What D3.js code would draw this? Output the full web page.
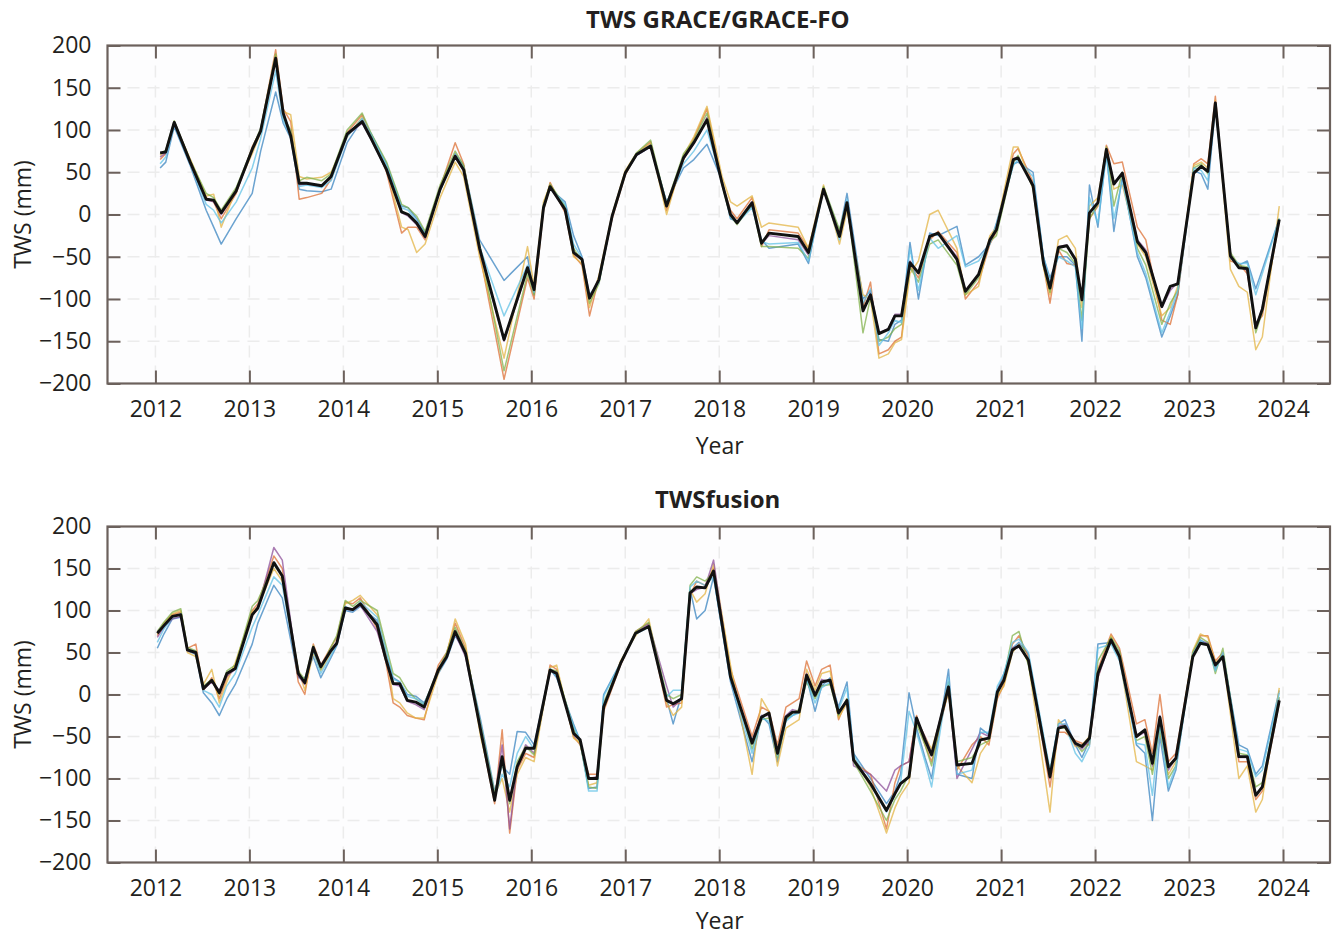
<!DOCTYPE html>
<html>
<head>
<meta charset="utf-8">
<script src="https://cdn.jsdelivr.net/npm/d3@7"></script>
<style>
  html, body { margin: 0; padding: 0; background: #ffffff; }
  svg { display: block; }
  text { font-family: "Open Sans", "Noto Sans", sans-serif; fill: #231f20; }
</style>
</head>
<body>
<svg id="chart" width="1338" height="937"></svg>
<script>
// ---------- shared axis settings ----------
const yearTicks = [2012, 2013, 2014, 2015, 2016, 2017, 2018, 2019, 2020, 2021, 2022, 2023, 2024];
const twsTicks = [-200, -150, -100, -50, 0, 50, 100, 150, 200];
const seriesNames = ["blue", "orange", "yellow", "purple", "green", "cyan"];

// ---------- TWS GRACE/GRACE-FO ----------
const graceTime = [2012.05, 2012.11, 2012.20, 2012.37, 2012.54, 2012.62, 2012.70, 2012.86, 2013.03, 2013.12,
  2013.28, 2013.36, 2013.44, 2013.53, 2013.61, 2013.77, 2013.87, 2014.04, 2014.20, 2014.30,
  2014.46, 2014.62, 2014.69, 2014.78, 2014.87, 2015.03, 2015.19, 2015.28, 2015.45, 2015.71,
  2015.96, 2016.03, 2016.13, 2016.20, 2016.36, 2016.45, 2016.54, 2016.62, 2016.72, 2016.86,
  2017.00, 2017.12, 2017.27, 2017.44, 2017.62, 2017.73, 2017.87, 2018.03, 2018.12, 2018.19,
  2018.35, 2018.45, 2018.53, 2018.84, 2018.95, 2019.11, 2019.28, 2019.36, 2019.53, 2019.61,
  2019.70, 2019.80, 2019.87, 2019.94, 2020.03, 2020.12, 2020.24, 2020.33, 2020.53, 2020.62,
  2020.76, 2020.88, 2020.95, 2021.13, 2021.18, 2021.34, 2021.45, 2021.52, 2021.61, 2021.70,
  2021.79, 2021.86, 2021.94, 2022.03, 2022.12, 2022.20, 2022.29, 2022.45, 2022.54, 2022.71,
  2022.80, 2022.88, 2023.05, 2023.13, 2023.20, 2023.28, 2023.44, 2023.53, 2023.62, 2023.71,
  2023.78, 2023.96];
const graceMean = [73, 74, 109, 62, 18, 17, 2, 28, 77, 99,
  185, 120, 93, 37, 37, 34, 45, 95, 110, 89,
  53, 3, 0, -10, -26, 30, 69, 53, -40, -148,
  -63, -89, 8, 33, 6, -45, -53, -99, -77, -2,
  49, 71, 81, 10, 67, 85, 112, 37, 0, -10,
  14, -34, -22, -26, -45, 30, -26, 14, -114, -95,
  -141, -136, -120, -120, -57, -69, -26, -22, -53, -91,
  -71, -30, -18, 65, 67, 34, -57, -87, -39, -37,
  -53, -101, 2, 14, 77, 36, 49, -32, -45, -109,
  -85, -82, 49, 57, 51, 132, -49, -63, -64, -134,
  -112, -6];
const graceBlue = [55, 62, 104, 58, 5, -15, -35, -5, 25, 75,
  145, 108, 90, 30, 28, 27, 30, 85, 112, 95,
  60, 10, 8, -5, -22, 28, 72, 58, -30, -78,
  -50, -95, 12, 30, 15, -25, -50, -95, -80, -2,
  48, 70, 80, 15, 55, 65, 83, 40, -5, -8,
  10, -30, -40, -35, -58, 32, -20, 25, -100, -90,
  -148, -150, -130, -125, -33, -100, -22, -25, -14, -60,
  -50, -35, -10, 60, 62, 50, -50, -75, -50, -50,
  -60, -150, 35, -15, 75, -20, 45, -50, -75, -145,
  -120, -95, 52, 48, 30, 128, -48, -60, -55, -88,
  -65, -5];
const graceOrange = [65, 72, 110, 63, 20, 15, -5, 25, 80, 100,
  195, 125, 110, 18, 20, 25, 42, 97, 118, 92,
  50, -22, -15, -15, -30, 32, 85, 60, -45, -195,
  -75, -100, 5, 38, 2, -48, -60, -120, -75, -5,
  47, 72, 86, 5, 65, 90, 125, 38, 5, -5,
  20, -38, -18, -22, -40, 28, -22, 10, -110, -80,
  -165, -160, -150, -145, -60, -75, -30, -20, -45, -100,
  -80, -35, -20, 72, 78, 38, -60, -105, -42, -58,
  -60, -95, -5, 10, 82, 60, 62, -15, -30, -125,
  -130, -95, 60, 66, 60, 140, -55, -58, -70, -130,
  -120, -8];
const graceYellow = [70, 75, 108, 66, 22, 24, -15, 30, 72, 97,
  188, 122, 118, 45, 42, 44, 50, 92, 115, 88,
  55, -15, -18, -45, -35, 20, 62, 45, -50, -170,
  -38, -85, 15, 35, 8, -50, -58, -110, -72, 0,
  52, 73, 84, 0, 70, 92, 128, 45, 15, 10,
  22, -15, -10, -15, -40, 35, -35, 5, -95, -100,
  -170, -165, -152, -148, -70, -55, 0, 5, -40, -95,
  -85, -25, -15, 80, 80, 30, -62, -95, -30, -25,
  -40, -110, 10, 20, 78, 30, 35, -35, -50, -120,
  -110, -85, 58, 62, 55, 135, -65, -85, -92, -160,
  -145, 10];
const gracePurple = [68, 73, 107, 61, 17, 15, 0, 27, 76, 98,
  183, 118, 95, 35, 36, 33, 44, 94, 108, 88,
  52, 2, -2, -12, -28, 30, 68, 52, -42, -150,
  -65, -90, 8, 33, 5, -45, -52, -100, -78, -3,
  50, 70, 80, 10, 66, 84, 115, 37, 0, -10,
  15, -35, -25, -30, -48, 30, -25, 12, -115, -92,
  -140, -135, -118, -118, -55, -70, -25, -22, -50, -90,
  -72, -30, -18, 66, 68, 35, -55, -88, -38, -36,
  -55, -100, 2, 14, 78, 38, 48, -30, -42, -110,
  -90, -80, 50, 56, 50, 133, -50, -62, -66, -135,
  -110, -6];
const graceGreen = [72, 76, 111, 64, 25, 20, 5, 32, 78, 102,
  190, 115, 100, 40, 44, 40, 48, 100, 120, 95,
  62, 12, 8, -2, -20, 35, 75, 58, -35, -185,
  -70, -95, 10, 36, 10, -40, -55, -105, -82, -1,
  50, 73, 88, 12, 72, 88, 120, 35, -2, -12,
  12, -38, -38, -40, -52, 33, -18, 15, -140, -98,
  -150, -145, -135, -130, -62, -80, -35, -30, -60, -95,
  -75, -32, -25, 62, 70, 32, -60, -92, -40, -45,
  -58, -125, -5, 12, 80, 10, 50, -40, -60, -130,
  -105, -90, 55, 60, 48, 130, -45, -60, -62, -140,
  -115, -5];
const graceCyan = [60, 68, 106, 60, 12, 5, -10, 15, 55, 90,
  170, 112, 92, 33, 35, 32, 40, 92, 114, 93,
  58, 8, 5, -8, -24, 29, 70, 55, -38, -120,
  -60, -92, 10, 32, 12, -35, -52, -98, -80, -2,
  49, 72, 82, 13, 60, 75, 100, 38, -3, -10,
  8, -32, -35, -33, -55, 30, -30, 18, -105, -88,
  -155, -140, -125, -128, -40, -90, -28, -40, -25, -62,
  -55, -35, -12, 58, 65, 45, -50, -80, -50, -55,
  -62, -135, 20, -10, 70, -5, 40, -45, -70, -140,
  -115, -90, 55, 52, 40, 130, -52, -58, -58, -95,
  -70, -5];

// ---------- TWSfusion ----------
const fusionTime = [2012.02, 2012.09, 2012.18, 2012.27, 2012.34, 2012.43, 2012.51, 2012.60, 2012.68, 2012.76,
  2012.85, 2013.03, 2013.09, 2013.26, 2013.35, 2013.52, 2013.59, 2013.68, 2013.76, 2013.86,
  2013.93, 2014.02, 2014.10, 2014.18, 2014.36, 2014.45, 2014.53, 2014.60, 2014.68, 2014.77,
  2014.86, 2015.01, 2015.10, 2015.19, 2015.30, 2015.46, 2015.61, 2015.69, 2015.77, 2015.85,
  2015.94, 2016.03, 2016.20, 2016.27, 2016.45, 2016.52, 2016.61, 2016.70, 2016.77, 2016.95,
  2017.11, 2017.25, 2017.44, 2017.51, 2017.60, 2017.69, 2017.76, 2017.85, 2017.94, 2018.12,
  2018.35, 2018.45, 2018.53, 2018.62, 2018.71, 2018.78, 2018.85, 2018.93, 2019.02, 2019.09,
  2019.18, 2019.27, 2019.36, 2019.43, 2019.61, 2019.78, 2019.87, 2019.93, 2020.02, 2020.10,
  2020.19, 2020.26, 2020.44, 2020.53, 2020.69, 2020.78, 2020.87, 2020.96, 2021.03, 2021.12,
  2021.19, 2021.29, 2021.52, 2021.61, 2021.68, 2021.79, 2021.86, 2021.94, 2022.03, 2022.17,
  2022.26, 2022.44, 2022.53, 2022.61, 2022.69, 2022.78, 2022.86, 2023.04, 2023.12, 2023.20,
  2023.28, 2023.36, 2023.53, 2023.62, 2023.71, 2023.78, 2023.96];
const fusionMean = [73, 82, 93, 95, 53, 50, 7, 17, 2, 25,
  31, 95, 103, 157, 141, 25, 14, 56, 33, 51,
  61, 103, 101, 108, 83, 43, 13, 13, -7, -9,
  -15, 29, 45, 75, 49, -42, -126, -74, -126, -86,
  -64, -64, 29, 25, -46, -54, -100, -100, -15, 37,
  73, 81, -7, -11, -5, 121, 128, 127, 147, 21,
  -58, -27, -22, -70, -27, -21, -21, 23, -1, 15,
  17, -22, -7, -78, -106, -138, -118, -106, -98, -28,
  -54, -72, 9, -84, -82, -54, -52, 3, 17, 53,
  58, 41, -98, -40, -38, -58, -62, -52, 25, 65,
  45, -50, -42, -82, -27, -86, -76, 45, 61, 59,
  35, 45, -74, -74, -120, -110, -7];
const fusionBlue = [55, 72, 90, 92, 52, 48, 2, -10, -25, -5,
  12, 60, 85, 130, 115, 20, 20, 45, 20, 42,
  58, 100, 98, 105, 88, 50, 20, 15, 0, -2,
  -10, 25, 42, 70, 50, -30, -115, -85, -95, -44,
  -45, -60, 30, 20, -35, -55, -112, -110, 0, 38,
  72, 82, -5, -35, 0, 125, 90, 100, 140, 15,
  -80, -25, -35, -80, -30, -25, -20, 20, -20, 10,
  20, -15, 15, -70, -100, -130, -115, -95, 2, -40,
  -75, -100, 30, -95, -100, -40, -48, 5, 25, 55,
  62, 48, -95, -35, -30, -60, -75, -55, 60, 62,
  50, -60, -70, -150, -50, -115, -90, 50, 65, 60,
  30, 48, -60, -65, -95, -85, 5];
const fusionOrange = [70, 85, 95, 98, 55, 60, 5, 20, -5, 20,
  35, 100, 108, 165, 150, 15, 0, 60, 35, 55,
  68, 110, 108, 115, 78, 40, -10, -15, -25, -28,
  -30, 35, 50, 85, 55, -45, -130, -42, -165, -90,
  -70, -75, 35, 30, -50, -60, -95, -95, -20, 35,
  75, 85, -15, -12, -10, 118, 135, 130, 150, 30,
  -50, -15, -20, -60, -15, -10, -5, 40, 10, 30,
  35, -30, -5, -80, -95, -160, -105, -85, -80, -25,
  -60, -80, 5, -90, -60, -50, -60, -5, 12, 60,
  70, 45, -110, -45, -45, -55, -58, -60, 30, 72,
  55, -35, -30, -70, 0, -80, -70, 48, 70, 70,
  40, 50, -80, -80, -125, -115, -10];
const fusionYellow = [72, 84, 96, 100, 50, 45, 12, 30, -10, 15,
  38, 98, 104, 150, 135, 30, 5, 50, 28, 48,
  62, 108, 112, 118, 95, 55, -5, -10, -22, -28,
  -28, 25, 48, 90, 60, -50, -120, -100, -140, -95,
  -75, -80, 32, 35, -52, -58, -108, -105, -18, 40,
  70, 90, -10, -25, -15, 125, 110, 120, 155, 35,
  -95, -5, -20, -85, -40, -35, -30, 30, 5, 25,
  28, -28, -10, -75, -110, -165, -135, -120, -105, -30,
  -50, -65, 2, -85, -105, -70, -55, -2, 10, 50,
  60, 38, -140, -30, -40, -62, -60, -50, 20, 70,
  45, -80, -85, -90, -45, -95, -80, 52, 72, 68,
  38, 45, -100, -85, -140, -125, 8];
const fusionPurple = [68, 80, 90, 93, 52, 49, 6, 15, 5, 22,
  30, 95, 102, 175, 160, 22, 12, 55, 35, 50,
  60, 102, 100, 106, 75, 42, 12, 10, -8, -12,
  -18, 28, 45, 72, 45, -40, -125, -60, -160, -85,
  -60, -70, 28, 27, -48, -55, -100, -98, -12, 36,
  74, 84, 10, -15, -5, 120, 125, 128, 160, 20,
  -55, -25, -25, -70, -25, -18, -20, 25, 0, 18,
  15, -20, -8, -85, -95, -115, -90, -85, -80, -30,
  -50, -70, 10, -100, -65, -45, -50, 5, 20, 55,
  58, 40, -100, -38, -35, -60, -65, -55, 20, 66,
  48, -50, -45, -85, -25, -90, -75, 45, 62, 62,
  35, 45, -75, -75, -120, -110, -5];
const fusionGreen = [75, 86, 98, 102, 56, 52, 10, 18, 0, 28,
  35, 105, 112, 155, 142, 28, 18, 58, 30, 55,
  70, 112, 105, 112, 100, 60, 25, 20, 5, -5,
  -12, 30, 50, 80, 52, -35, -118, -80, -130, -80,
  -62, -72, 30, 28, -40, -58, -110, -112, -10, 38,
  75, 86, 0, -5, 0, 130, 140, 135, 145, 25,
  -65, -30, -28, -75, -30, -22, -18, 15, -5, 10,
  12, -25, -5, -80, -115, -150, -125, -115, -95, -35,
  -60, -85, 15, -80, -75, -60, -55, 0, 20, 70,
  75, 35, -92, -40, -40, -58, -68, -58, 40, 68,
  52, -55, -50, -95, -40, -100, -85, 50, 68, 62,
  25, 55, -70, -72, -110, -105, -3];
const fusionCyan = [62, 78, 92, 96, 54, 50, 5, 0, -15, 10,
  25, 80, 95, 140, 130, 25, 15, 52, 25, 45,
  60, 105, 100, 110, 92, 55, 18, 15, -2, -5,
  -12, 28, 44, 74, 50, -38, -122, -95, -110, -70,
  -50, -65, 31, 22, -38, -55, -115, -115, -2, 37,
  72, 80, -3, 5, 5, 128, 135, 130, 140, 18,
  -70, -28, -32, -72, -32, -25, -22, 18, -10, 8,
  15, -18, 8, -72, -108, -140, -120, -105, -20, -45,
  -80, -110, 20, -95, -90, -45, -45, 10, 25, 62,
  66, 50, -90, -35, -35, -70, -80, -62, 55, 60,
  40, -58, -60, -120, -35, -110, -85, 48, 64, 58,
  28, 50, -65, -68, -98, -90, 2];

// ---------- styling ----------
const colors = {
  blue: "#3a84c0",
  orange: "#dc7035",
  yellow: "#e3b444",
  purple: "#8d5099",
  green: "#82b24c",
  cyan: "#62c2e6"
};
const axisColor = "#6c615c";
const gridColor = "#ececec";

const panels = [
  {
    title: "TWS GRACE/GRACE-FO",
    time: graceTime,
    mean: graceMean,
    members: [graceBlue, graceOrange, graceYellow, gracePurple, graceGreen, graceCyan],
    top: 45.5, bottom: 383.5,
    titleY: 28, xLabelY: 454
  },
  {
    title: "TWSfusion",
    time: fusionTime,
    mean: fusionMean,
    members: [fusionBlue, fusionOrange, fusionYellow, fusionPurple, fusionGreen, fusionCyan],
    top: 526.5, bottom: 862.5,
    titleY: 508, xLabelY: 929
  }
];

const left = 107.5, right = 1330;
const svg = d3.select("#chart");

const x = d3.scaleLinear().domain([2011.49, 2024.5]).range([left, right]);

panels.forEach((p, pi) => {
  const y = d3.scaleLinear().domain([-200, 200]).range([p.bottom, p.top]);
  const g = svg.append("g");

  // plot background
  g.append("rect")
    .attr("x", left).attr("y", p.top)
    .attr("width", right - left).attr("height", p.bottom - p.top)
    .attr("fill", "#fdfdfe");

  // grid
  const grid = g.append("g");
  grid.selectAll("line.gx").data(yearTicks).join("line")
    .attr("x1", d => x(d)).attr("x2", d => x(d))
    .attr("y1", p.top).attr("y2", p.bottom)
    .attr("stroke", gridColor).attr("stroke-width", 1.5)
    .attr("stroke-dasharray", "12,8");
  grid.selectAll("line.gy").data(twsTicks.slice(1, -1)).join("line")
    .attr("x1", left).attr("x2", right)
    .attr("y1", d => y(d)).attr("y2", d => y(d))
    .attr("stroke", gridColor).attr("stroke-width", 1.5)
    .attr("stroke-dasharray", "12,8");

  const clipId = "clip" + pi;
  g.append("clipPath").attr("id", clipId)
    .append("rect")
    .attr("x", left).attr("y", p.top)
    .attr("width", right - left).attr("height", p.bottom - p.top);

  const line = d3.line()
    .x(d => x(d[0]))
    .y(d => y(d[1]));

  const lines = g.append("g").attr("clip-path", `url(#${clipId})`);

  // ensemble members
  p.members.forEach((vals, i) => {
    lines.append("path")
      .datum(p.time.map((t, k) => [t, vals[k]]))
      .attr("d", line)
      .attr("fill", "none")
      .attr("stroke", colors[seriesNames[i]])
      .attr("stroke-width", 1.5)
      .attr("stroke-opacity", 0.75)
      .attr("stroke-linejoin", "round");
  });

  // ensemble mean
  lines.append("path")
    .datum(p.time.map((t, k) => [t, p.mean[k]]))
    .attr("d", line)
    .attr("fill", "none")
    .attr("stroke", "#111111")
    .attr("stroke-width", 2.9)
    .attr("stroke-linejoin", "round");

  // axes with inward ticks on all four sides
  const tickLen = 13;
  const xb = g.append("g").attr("transform", `translate(0,${p.bottom})`)
    .call(d3.axisBottom(x).tickValues(yearTicks).tickSize(-tickLen).tickPadding(17).tickFormat(d3.format("d")));
  const xt = g.append("g").attr("transform", `translate(0,${p.top})`)
    .call(d3.axisTop(x).tickValues(yearTicks).tickSize(-tickLen).tickFormat(""));
  const yl = g.append("g").attr("transform", `translate(${left},0)`)
    .call(d3.axisLeft(y).tickValues(twsTicks).tickSize(-tickLen).tickPadding(16));
  const yr = g.append("g").attr("transform", `translate(${right},0)`)
    .call(d3.axisRight(y).tickValues(twsTicks).tickSize(-tickLen).tickFormat(""));

  [xb, xt, yl, yr].forEach(a => {
    a.select(".domain").remove();
    a.selectAll(".tick line").attr("stroke", axisColor).attr("stroke-width", 2);
    a.selectAll(".tick text")
      .attr("fill", "#231f20")
      .style("font-size", "23px")
      .style("font-family", '"Open Sans", "Noto Sans", sans-serif');
  });

  // frame
  g.append("rect")
    .attr("x", left).attr("y", p.top)
    .attr("width", right - left).attr("height", p.bottom - p.top)
    .attr("fill", "none")
    .attr("stroke", axisColor).attr("stroke-width", 2.2);

  // title
  svg.append("text")
    .attr("x", (left + right) / 2 - 1).attr("y", p.titleY)
    .attr("text-anchor", "middle")
    .style("font-size", "24px").style("font-weight", "700")
    .text(p.title);

  // x label
  svg.append("text")
    .attr("x", (left + right) / 2 + 1).attr("y", p.xLabelY)
    .attr("text-anchor", "middle")
    .style("font-size", "23px")
    .text("Year");

  // y label
  svg.append("text")
    .attr("transform", `translate(31,${(p.top + p.bottom) / 2}) rotate(-90)`)
    .attr("text-anchor", "middle")
    .style("font-size", "23px")
    .text("TWS (mm)");
});
</script>
</body>
</html>
